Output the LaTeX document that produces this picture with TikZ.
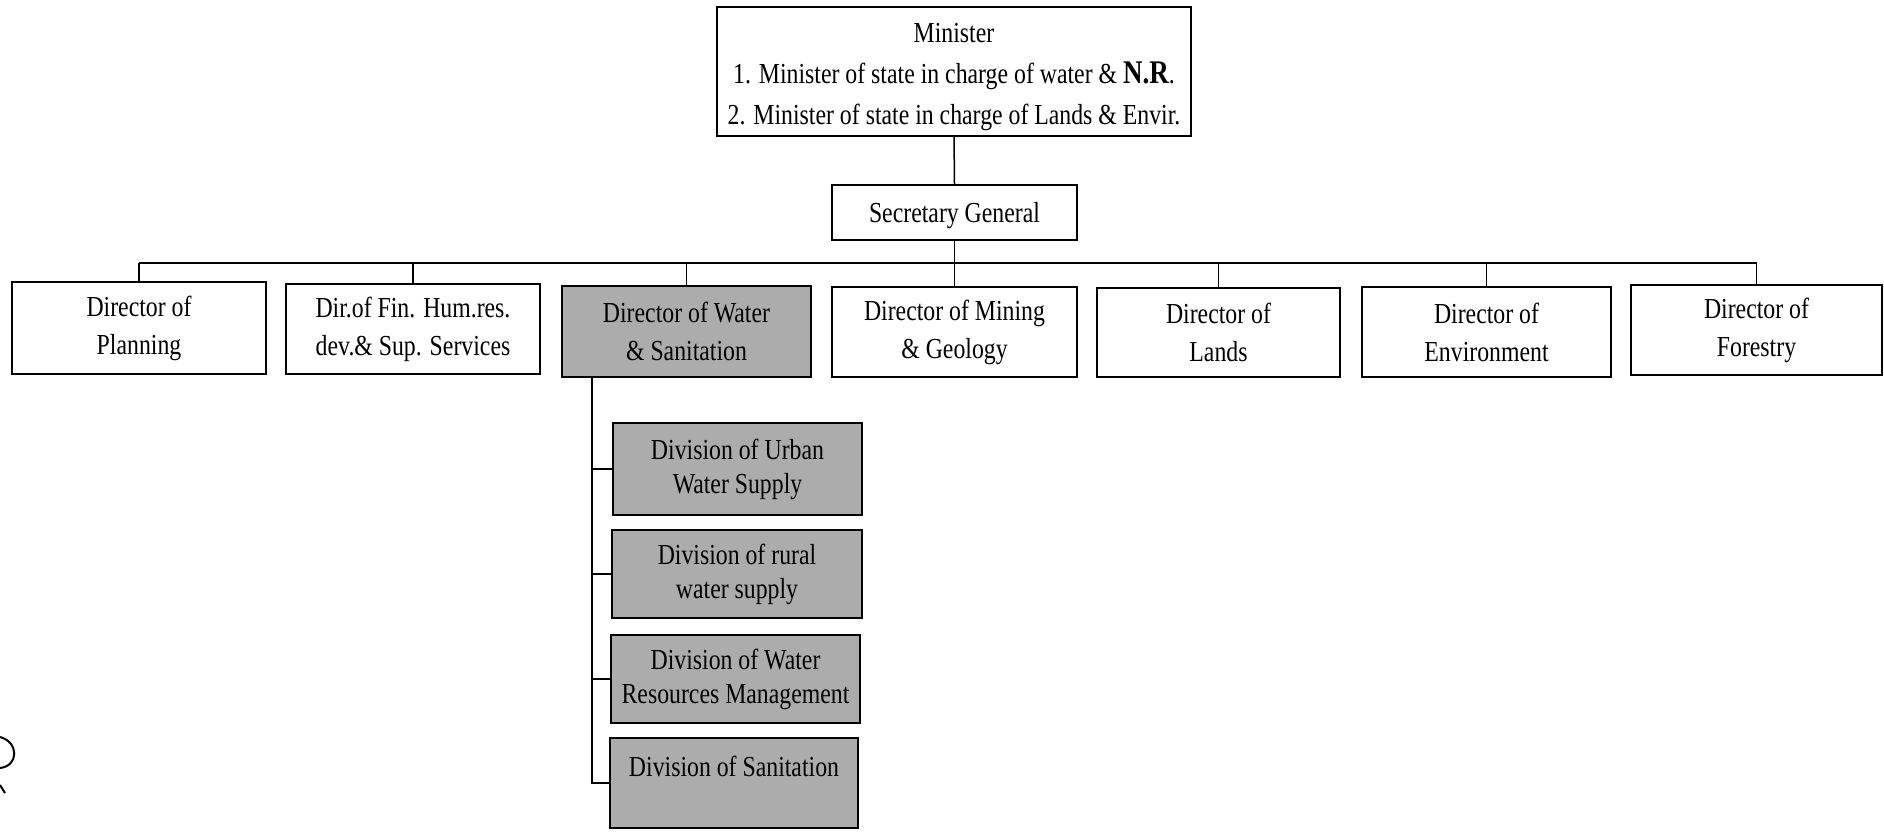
\documentclass[tikz,border=0pt]{standalone}
\usepackage{fontspec}
\setmainfont{Liberation Serif}[FakeStretch=0.82]
\begin{document}
\begin{tikzpicture}[x=1pt,y=-1pt,
  box/.style={draw=black, line width=1.5pt, inner sep=0pt, align=center, font=\fontsize{29}{38}\selectfont},
  shaded/.style={box, fill={rgb,255:red,172;green,172;blue,172}, font=\fontsize{29}{34}\selectfont},
  plaintext/.style={inner sep=0pt, align=center, font=\fontsize{29}{41}\selectfont},
  link/.style={line width=1.5pt}]
\useasboundingbox (0,0) rectangle (1884,831);
\fill[white] (0,0) rectangle (1884,831);

\node[box, minimum width=474pt, minimum height=129pt] (min) at (954,71.5) {};
\node[plaintext] (mintext) at (954,77)
  {Minister\\1. Minister of state in charge of water \& {\fontsize{33}{41}\selectfont\bfseries N.R}.\\2. Minister of state in charge of Lands \& Envir.};
\node[box, minimum width=245pt, minimum height=55pt] (sec) at (954.5,212.5) {};
\node[plaintext] (sectext) at (954.5,216) {Secretary General};

\node[box, minimum width=254pt, minimum height=92pt] (plan) at (139,328) {Director of\\Planning};
\node[box, minimum width=254pt, minimum height=90pt] (fin) at (413,329) {Dir.of Fin. Hum.res.\\dev.\& Sup. Services};
\node[shaded, minimum width=249pt, minimum height=91pt, font=\fontsize{29}{38}\selectfont] (water) at (686.5,331.5) {Director of Water\\\& Sanitation};
\node[box, minimum width=245pt, minimum height=90pt] (mining) at (954.5,332) {Director of Mining\\\& Geology};
\node[box, minimum width=243pt, minimum height=89pt] (lands) at (1218.5,332.5) {Director of\\Lands};
\node[box, minimum width=249pt, minimum height=90pt] (env) at (1486.5,332) {Director of\\Environment};
\node[box, minimum width=251pt, minimum height=90pt] (forest) at (1756.5,330) {Director of\\Forestry};

\node[shaded, minimum width=249pt, minimum height=92pt] (urban) at (737.5,469) {Division of Urban\\Water Supply};
\node[shaded, minimum width=250pt, minimum height=88pt] (rural) at (737,574) {Division of rural\\water supply};
\node[shaded, minimum width=249pt, minimum height=88pt] (wrm) at (735.5,679) {Division of Water\\Resources Management};
\node[shaded, minimum width=248pt, minimum height=90pt] (san) at (734,783) {Division of Sanitation\\~};

\coordinate (bus) at (0,263);
\coordinate (tk) at (592,0);

\draw[link] (min.south) -- (sec.north);
\draw[link] (sec.south) -- (sec.south |- bus);
\draw[link] (plan.north |- bus) -- (forest.north |- bus);
\foreach \n in {plan,fin,water,mining,lands,env,forest}
  \draw[link] (\n.north) -- (\n.north |- bus);

\draw[link] (water.south -| tk) |- (san.west);
\foreach \n in {urban,rural,wrm}
  \draw[link] (water.south -| tk) |- (\n.west);

% stray pen mark at the lower left edge
\draw[line width=2pt] (0,737) .. controls (19,742) and (19,766) .. (0,768);
\draw[line width=2pt] (0,785) -- (5,793);
\end{tikzpicture}
\end{document}
